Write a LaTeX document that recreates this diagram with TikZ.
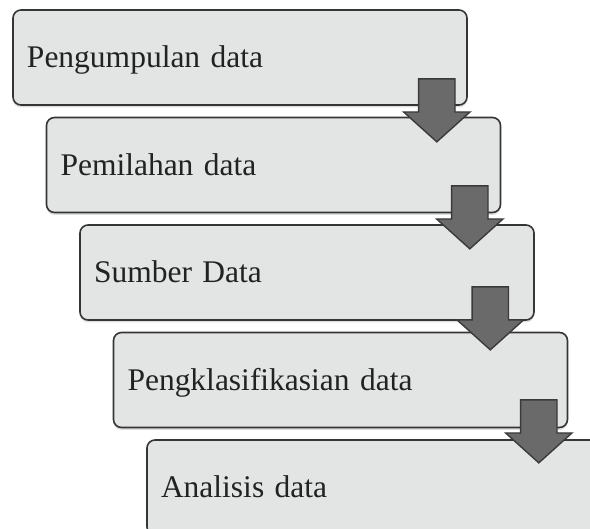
\documentclass[tikz,border=0pt]{standalone}
\usepackage{fontspec}
\setmainfont{Liberation Serif}
\usetikzlibrary{shapes.arrows, shadows, positioning}
\definecolor{boxfill}{HTML}{E3E5E5}
\definecolor{boxline}{HTML}{353535}
\definecolor{textgray}{HTML}{222222}
\definecolor{arrowfill}{HTML}{6A6A6A}
\definecolor{arrowline}{HTML}{3A3A3A}
\tikzstyle{stage} = [rectangle, rounded corners=8pt, minimum width=454pt, minimum height=95pt, text width=426pt, inner xsep=14pt, align=left, text height=21pt, text depth=0pt, draw=boxline, line width=1.6pt, fill=boxfill, text=textgray, font=\fontsize{31.5}{36}\selectfont, drop shadow={shadow xshift=0pt, shadow yshift=-2.5pt, opacity=0.25}]
\tikzstyle{pointer} = [single arrow, shape border rotate=270, anchor=tip, single arrow head extend=15pt, single arrow tip angle=96, minimum height=63pt, minimum width=65pt, text width=35pt, text height=0pt, text depth=0pt, inner sep=0pt, draw=arrowline, line width=1.4pt, fill=arrowfill]

\begin{document}
\begin{tikzpicture}[node distance=107.5pt]
           \useasboundingbox (0,0) rectangle (590pt,-529pt);
           \clip (0,0) rectangle (590pt,-529pt);
           \node (pengumpulan) [stage] at (240pt,-57.5pt) {Pengumpulan data};
           \node (pemilahan) [stage, below of=pengumpulan, xshift=33.5pt] {Pemilahan data};
           \node (sumber) [stage, below of=pemilahan, xshift=33.5pt] {Sumber Data};
           \node (klasifikasi) [stage, below of=sumber, xshift=33.5pt] {Pengklasifikasian data};
           \node (analisis) [stage, below of=klasifikasi, xshift=33.5pt] {Analisis data};

           \node (p1) [pointer] at ([xshift=-31pt, yshift=-37pt]pengumpulan.south east) {};
           \node (p2) [pointer] at ([xshift=-31.5pt, yshift=-36.5pt]pemilahan.south east) {};
           \node (p3) [pointer] at ([xshift=-44.5pt, yshift=-30pt]sumber.south east) {};
           \node (p4) [pointer] at ([xshift=-29.5pt, yshift=-35.5pt]klasifikasi.south east) {};
        \end{tikzpicture}
\end{document}
